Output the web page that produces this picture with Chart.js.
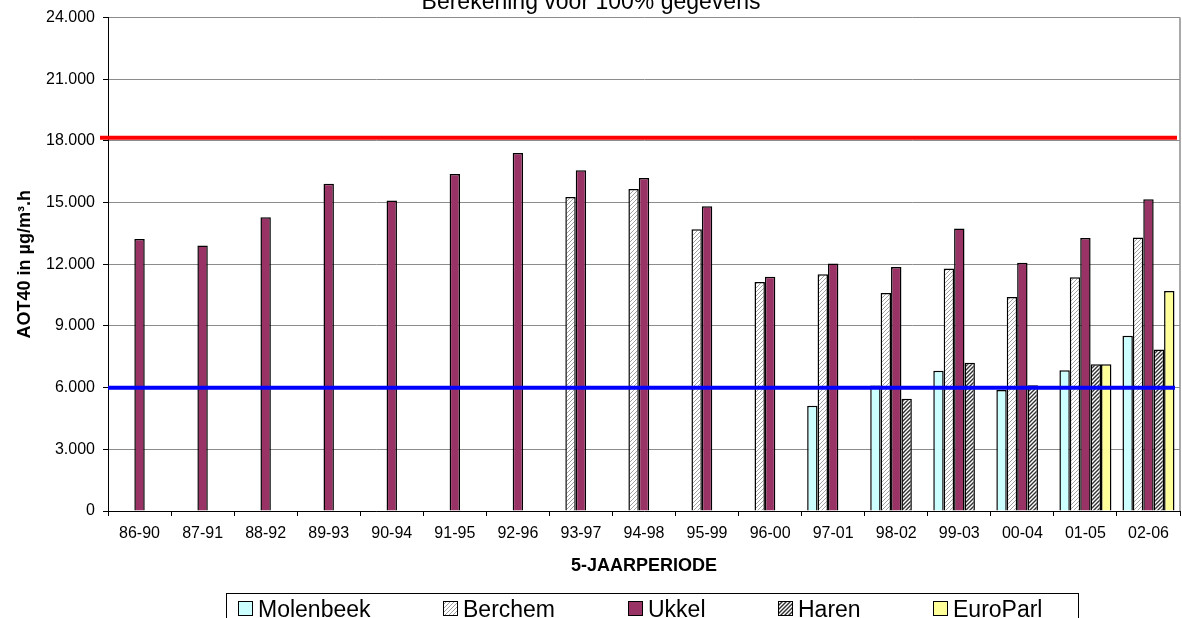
<!DOCTYPE html>
<html>
<head>
<meta charset="utf-8">
<title>AOT40 - 5-jaarperiode</title>
<script src="https://cdn.jsdelivr.net/npm/chart.js@4.4.0/dist/chart.umd.min.js"></script>
<style>
  html, body { margin: 0; padding: 0; background: #fff; }
  #wrap { width: 1182px; height: 618px; }
</style>
</head>
<body>
<div id="wrap"><canvas id="myChart" width="1182" height="618"></canvas></div>
<script>
// DATA (AOT40 in µg/m³.h per 5-year period)
const periods = ['86-90', '87-91', '88-92', '89-93', '90-94', '91-95', '92-96', '93-97', '94-98',
  '95-99', '96-00', '97-01', '98-02', '99-03', '00-04', '01-05', '02-06'];

const molenbeek = [null, null, null, null, null, null, null, null, null, null, null,
  5120, 6100, 6820, 5880, 6850, 8520];
const berchem = [null, null, null, null, null, null, null,
  15270, 15660, 13700, 11140, 11520, 10610, 11790, 10410, 11370, 13300];
const ukkel = [13230, 12910, 14290, 15920, 15100, 16390, 17410, 16570, 16200,
  14820, 11400, 12040, 11870, 13740, 12070, 13280, 15160];
const haren = [null, null, null, null, null, null, null, null, null, null, null, null,
  5460, 7210, 6120, 7140, 7860];
const europarl = [null, null, null, null, null, null, null, null, null, null, null, null,
  null, null, null, 7140, 10700];

const seriesNames = ['Molenbeek', 'Berchem', 'Ukkel', 'Haren', 'EuroParl'];

// reference lines
const upperLimit = 18150;
const targetValue = 6000;

Chart.defaults.font.family = '"Liberation Sans", Arial, sans-serif';
Chart.defaults.color = '#000';

// thousands with a dot: 24.000
const fmt = (v) => String(v).replace(/\B(?=(\d{3})+(?!\d))/g, '.');

// hatch fill like the excel patterns
function hatch(bg, fg, lw) {
  const tile = document.createElement('canvas');
  tile.width = 4;
  tile.height = 4;
  const c = tile.getContext('2d');
  c.fillStyle = bg;
  c.fillRect(0, 0, 4, 4);
  c.strokeStyle = fg;
  c.lineWidth = lw;
  c.beginPath();
  c.moveTo(0, 4); c.lineTo(4, 0);
  c.moveTo(-1, 1); c.lineTo(1, -1);
  c.moveTo(3, 5); c.lineTo(5, 3);
  c.stroke();
  return c.createPattern(tile, 'repeat');
}

const fills = ['#ccffff', hatch('#ffffff', '#a0a0a0', 1), '#993366', hatch('#ffffff', '#303030', 1.4), '#ffff99'];
const series = [molenbeek, berchem, ukkel, haren, europarl];

// extras: plot border, limit lines, title, legend
const decorations = {
  id: 'decorations',
  beforeDatasetsDraw(chart) {
    const { ctx, chartArea: { top, bottom, right } } = chart;
    ctx.save();
    ctx.strokeStyle = '#8c8c8c';
    ctx.lineWidth = 1.5;
    ctx.beginPath();
    ctx.moveTo(right, top);
    ctx.lineTo(right, bottom);
    ctx.stroke();
    ctx.restore();
  },
  afterDatasetsDraw(chart) {
    const { ctx, chartArea: { left, right }, scales: { y } } = chart;
    ctx.save();
    ctx.lineWidth = 4;

    ctx.strokeStyle = '#ff0000';
    ctx.beginPath();
    ctx.moveTo(left - 8, y.getPixelForValue(upperLimit));
    ctx.lineTo(right - 3, y.getPixelForValue(upperLimit));
    ctx.stroke();

    ctx.strokeStyle = '#0000ff';
    ctx.beginPath();
    ctx.moveTo(left, y.getPixelForValue(targetValue));
    ctx.lineTo(right - 5, y.getPixelForValue(targetValue));
    ctx.stroke();
    ctx.restore();
  },
  afterDraw(chart) {
    const { ctx } = chart;
    ctx.save();

    // title, cut off at the top like the original
    ctx.fillStyle = '#000';
    ctx.font = '23px "Liberation Sans", Arial, sans-serif';
    ctx.textAlign = 'center';
    ctx.textBaseline = 'alphabetic';
    ctx.fillText('Berekening voor 100% gegevens', chart.width / 2, 8.5);

    // legend box
    ctx.strokeStyle = '#000';
    ctx.lineWidth = 1;
    ctx.strokeRect(226.5, 593.5, 852, 40);

    const legendX = [238, 443, 628, 778, 933];
    ctx.textAlign = 'left';
    seriesNames.forEach((name, i) => {
      ctx.fillStyle = fills[i];
      ctx.fillRect(legendX[i], 601, 14, 14);
      ctx.strokeRect(legendX[i] + 0.5, 601.5, 14, 14);
      ctx.fillStyle = '#000';
      ctx.fillText(name, legendX[i] + 20, 617);
    });
    ctx.restore();
  }
};

const config = {
  type: 'bar',
  data: {
    labels: periods,
    datasets: seriesNames.map((name, i) => ({
      label: name,
      data: series[i],
      backgroundColor: fills[i],
      borderColor: '#000',
      borderWidth: 1.5,
      categoryPercentage: 0.825,
      barPercentage: 1,
    })),
  },
  options: {
    responsive: false,
    animation: false,
    layout: {
      padding: { top: 17, right: 2, left: 0, bottom: 0 },
    },
    plugins: {
      legend: { display: false },
      tooltip: { enabled: false },
    },
    scales: {
      x: {
        grid: {
          drawOnChartArea: false,
          tickLength: 5,
          tickColor: '#000',
          offset: true,
        },
        border: { color: '#000', width: 1 },
        ticks: {
          font: { size: 16 },
          padding: 8,
          maxRotation: 0,
          autoSkip: false,
        },
        title: {
          display: true,
          text: '5-JAARPERIODE',
          font: { size: 18, weight: 'bold' },
          padding: { top: 0, bottom: 41 },
        },
        afterFit: (scale) => {
          scale.height = 107;
        },
      },
      y: {
        min: 0,
        max: 24000,
        ticks: {
          stepSize: 3000,
          font: { size: 16 },
          padding: 8,
          callback: (value) => fmt(value),
        },
        grid: {
          color: '#8c8c8c',
          tickColor: '#000',
          tickLength: 5,
        },
        border: { color: '#000', width: 1 },
        title: {
          display: true,
          text: 'AOT40 in µg/m³.h',
          font: { size: 18, weight: 'bold' },
          padding: { top: 14, bottom: 0 },
        },
        afterFit: (scale) => {
          scale.width = 108;
        },
      },
    },
  },
  plugins: [decorations],
};

const myChart = new Chart(document.getElementById('myChart'), config);
</script>
</body>
</html>
